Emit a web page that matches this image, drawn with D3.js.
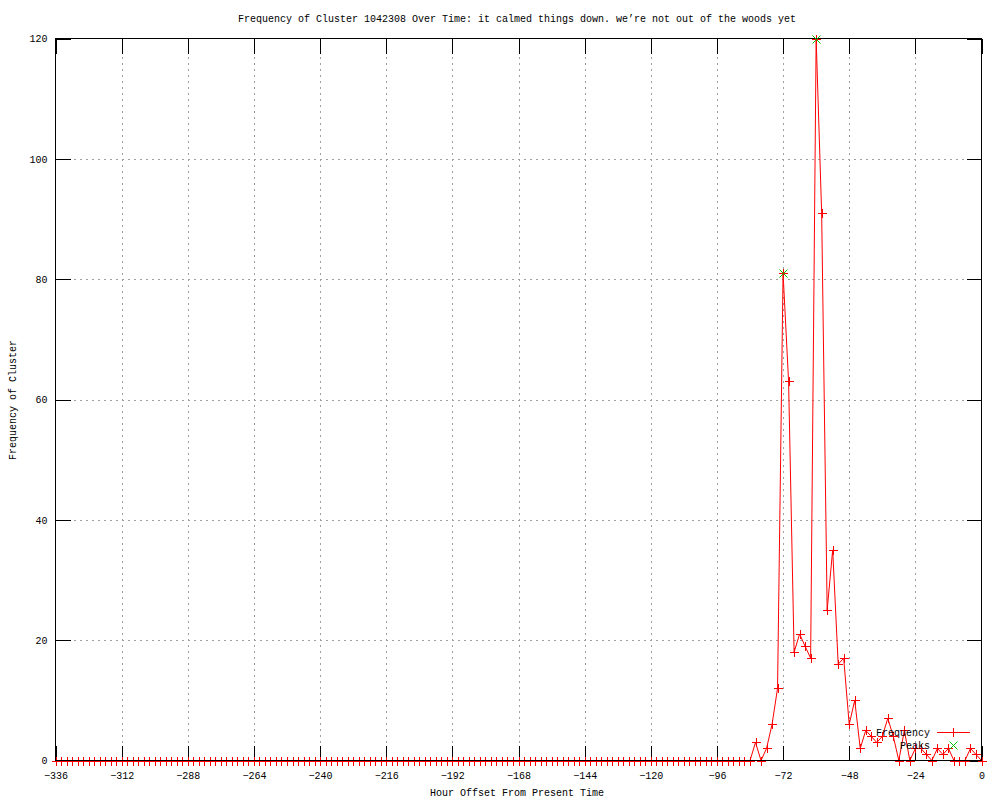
<!DOCTYPE html>
<html>
<head>
<meta charset="utf-8">
<script src="https://cdn.jsdelivr.net/npm/d3@7"></script>
<style>
  body { margin: 0; background: #fff; }
  svg { display: block; }
  text { font-family: "Liberation Mono", "DejaVu Sans Mono", monospace; font-size: 10px; fill: #000; }
</style>
</head>
<body>
<div class="svg-container"></div>
<script>
const title = 'Frequency of Cluster 1042308 Over Time: it calmed things down. we\u2019re not out of the woods yet'

// hour offsets, every 2 hours from -336 to 0
const hours = [
  -336,-334,-332,-330,-328,-326,-324,-322,-320,-318,-316,-314,-312,-310,-308,-306,-304,-302,-300,-298,
  -296,-294,-292,-290,-288,-286,-284,-282,-280,-278,-276,-274,-272,-270,-268,-266,-264,-262,-260,-258,
  -256,-254,-252,-250,-248,-246,-244,-242,-240,-238,-236,-234,-232,-230,-228,-226,-224,-222,-220,-218,
  -216,-214,-212,-210,-208,-206,-204,-202,-200,-198,-196,-194,-192,-190,-188,-186,-184,-182,-180,-178,
  -176,-174,-172,-170,-168,-166,-164,-162,-160,-158,-156,-154,-152,-150,-148,-146,-144,-142,-140,-138,
  -136,-134,-132,-130,-128,-126,-124,-122,-120,-118,-116,-114,-112,-110,-108,-106,-104,-102,-100,-98,
  -96,-94,-92,-90,-88,-86,-84,-82,-80,-78,-76,-74,-72,-70,-68,-66,-64,-62,-60,-58,
  -56,-54,-52,-50,-48,-46,-44,-42,-40,-38,-36,-34,-32,-30,-28,-26,-24,-22,-20,-18,
  -16,-14,-12,-10,-8,-6,-4,-2,0
]

const frequency = [
  0,0,0,0,0,0,0,0,0,0,0,0,0,0,0,0,0,0,0,0,
  0,0,0,0,0,0,0,0,0,0,0,0,0,0,0,0,0,0,0,0,
  0,0,0,0,0,0,0,0,0,0,0,0,0,0,0,0,0,0,0,0,
  0,0,0,0,0,0,0,0,0,0,0,0,0,0,0,0,0,0,0,0,
  0,0,0,0,0,0,0,0,0,0,0,0,0,0,0,0,0,0,0,0,
  0,0,0,0,0,0,0,0,0,0,0,0,0,0,0,0,0,0,0,0,
  0,0,0,0,0,0,0,3,0,2,6,12,81,63,18,21,19,17,120,91,
  25,35,16,17,6,10,2,5,4,3,4,7,4,0,5,0,2,2,1,0,
  2,1,2,0,0,0,2,1,0
]

const peakHours = [-72, -60]
const peakValues = [81, 120]

const xTicks = [-336,-312,-288,-264,-240,-216,-192,-168,-144,-120,-96,-72,-48,-24,0]
const yTicks = [0,20,40,60,80,100,120]

const W = 1000, H = 800
const plotLeft = 55.5, plotRight = 981.5, plotTop = 38.5, plotBottom = 760.5

const svg = d3.select('.svg-container').append('svg')
  .attr('width', W)
  .attr('height', H)

const x = d3.scaleLinear().domain([-336, 0]).range([plotLeft, plotRight])
const y = d3.scaleLinear().domain([0, 120]).range([plotBottom, plotTop])

// grid
svg.append('g')
  .attr('shape-rendering', 'crispEdges')
  .selectAll('line')
  .data(xTicks.filter(d => d > -336 && d < 0))
  .enter().append('line')
  .attr('x1', d => Math.round(x(d)) + 0.5).attr('x2', d => Math.round(x(d)) + 0.5)
  .attr('y1', plotTop).attr('y2', plotBottom)
  .attr('stroke', '#a0a0a0').attr('stroke-dasharray', '2,4')

svg.append('g')
  .attr('shape-rendering', 'crispEdges')
  .selectAll('line')
  .data(yTicks.filter(d => d > 0 && d < 120))
  .enter().append('line')
  .attr('x1', plotLeft).attr('x2', plotRight)
  .attr('y1', d => Math.round(y(d)) + 0.5).attr('y2', d => Math.round(y(d)) + 0.5)
  .attr('stroke', '#a0a0a0').attr('stroke-dasharray', '2,4')

// axes, gnuplot style with inward ticks
const xAxis = svg.append('g')
  .attr('transform', `translate(0,${plotBottom})`)
  .call(d3.axisBottom(x).tickValues(xTicks).tickSize(-15).tickPadding(11).tickFormat(d3.format('d')))
const xAxisTop = svg.append('g')
  .attr('transform', `translate(0,${plotTop})`)
  .call(d3.axisTop(x).tickValues(xTicks).tickSize(-15).tickFormat(''))
const yAxis = svg.append('g')
  .attr('transform', `translate(${plotLeft},0)`)
  .call(d3.axisLeft(y).tickValues(yTicks).tickSize(-15).tickPadding(8))
const yAxisRight = svg.append('g')
  .attr('transform', `translate(${plotRight},0)`)
  .call(d3.axisRight(y).tickValues(yTicks).tickSize(-15).tickFormat(''))

;[xAxis, xAxisTop, yAxis, yAxisRight].forEach(g => {
  g.select('.domain').remove()
  g.attr('font-family', null).attr('font-size', null)
  g.selectAll('.tick line').attr('stroke', '#000').attr('shape-rendering', 'crispEdges')
  g.selectAll('.tick text').attr('fill', '#000')
})

// frequency line
const data = hours.map((h, i) => ({ h: h, v: frequency[i] }))

svg.append('path')
  .datum(data)
  .attr('fill', 'none')
  .attr('stroke', '#ff0000')
  .attr('stroke-width', 1)
  .attr('d', d3.line().x(d => x(d.h)).y(d => y(d.v)))

const plus = (g, s) => g.append('path')
  .attr('d', `M${-s},0H${s}M0,${-s}V${s}`)
  .attr('stroke', '#ff0000').attr('fill', 'none')
  .attr('shape-rendering', 'crispEdges')

svg.append('g')
  .selectAll('g')
  .data(data)
  .enter().append('g')
  .attr('transform', d => `translate(${Math.round(x(d.h)) + 0.5},${Math.round(y(d.v)) + 0.5})`)
  .each(function() { plus(d3.select(this), 4.5) })

// border
svg.append('rect')
  .attr('x', plotLeft).attr('y', plotTop)
  .attr('width', plotRight - plotLeft).attr('height', plotBottom - plotTop)
  .attr('fill', 'none').attr('stroke', '#000')
  .attr('shape-rendering', 'crispEdges')

// peaks
const cross = (g, s) => g.append('path')
  .attr('d', `M${-s},${-s}L${s},${s}M${-s},${s}L${s},${-s}`)
  .attr('stroke', '#00c000').attr('fill', 'none')

svg.append('g')
  .selectAll('g')
  .data(peakHours.map((h, i) => ({ h: h, v: peakValues[i] })))
  .enter().append('g')
  .attr('transform', d => `translate(${Math.round(x(d.h)) + 0.5},${Math.round(y(d.v)) + 0.5})`)
  .each(function() { cross(d3.select(this), 4) })

// legend
const legend = svg.append('g')
legend.append('text').attr('x', 930).attr('y', 733).attr('text-anchor', 'end')
  .attr('dominant-baseline', 'middle').text('Frequency')
legend.append('line').attr('x1', 937).attr('x2', 970).attr('y1', 732.5).attr('y2', 732.5)
  .attr('stroke', '#ff0000').attr('shape-rendering', 'crispEdges')
plus(legend.append('g').attr('transform', 'translate(953.5,732.5)'), 4.5)
legend.append('text').attr('x', 930).attr('y', 746).attr('text-anchor', 'end')
  .attr('dominant-baseline', 'middle').text('Peaks')
cross(legend.append('g').attr('transform', 'translate(953.5,745.5)'), 4)

// titles
svg.append('text').attr('x', 517).attr('y', 19).attr('text-anchor', 'middle')
  .attr('dominant-baseline', 'middle').text(title)
svg.append('text').attr('x', 517).attr('y', 793).attr('text-anchor', 'middle')
  .attr('dominant-baseline', 'middle').text('Hour Offset From Present Time')
svg.append('text').attr('transform', 'translate(13,400) rotate(-90)').attr('text-anchor', 'middle')
  .attr('dominant-baseline', 'middle').text('Frequency of Cluster')
</script>
</body>
</html>
